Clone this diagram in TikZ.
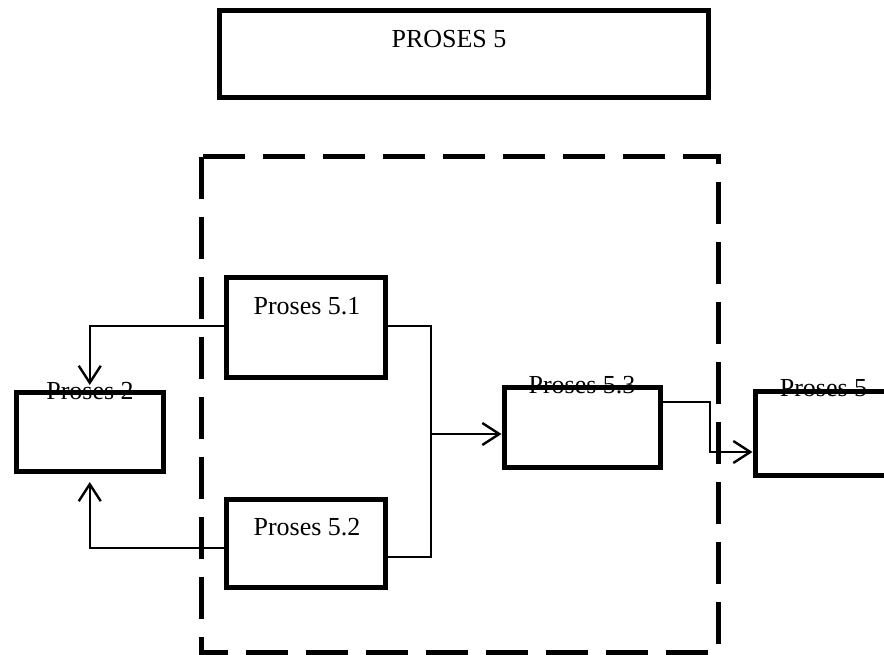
\documentclass[tikz,border=0pt]{standalone}
\usepackage{fontspec}
\setmainfont{Liberation Serif}
\usetikzlibrary{arrows.meta}

\begin{document}
\begin{tikzpicture}[x=1pt,y=-1pt,
        proc/.style={draw, line width=5pt, rectangle, inner sep=0pt},
        lbl/.style={anchor=base, inner sep=0pt, font=\fontsize{26}{30}\selectfont},
        link/.style={line width=1.7pt},
        tip/.style={link, -{Straight Barb[length=17pt,width=22pt,line width=2.4pt]}}]

        \useasboundingbox (0,0) rectangle (884,655);

        % Dashed frame
        \draw[line width=5pt, dash pattern=on 42pt off 18pt] (201,157) rectangle (718,652);

        % Boxes
        \node[proc, minimum width=489.5pt, minimum height=87pt] (top) at (463.75,54) {};
        \node[proc, minimum width=159pt, minimum height=100pt] (p51) at (306,327.5) {};
        \node[proc, minimum width=159pt, minimum height=88pt] (p52) at (306,543.5) {};
        \node[proc, minimum width=156pt, minimum height=80pt] (p53) at (582,427) {};
        \node[proc, minimum width=146.5pt, minimum height=78.5pt] (p2) at (89.75,431.75) {};
        \node[proc, minimum width=137pt, minimum height=84pt] (p5) at (823.5,433) {};

        % Labels
        \node[lbl] (ttop) at (449,48) {PROSES 5};
        \node[lbl] (t51) at (307,315) {Proses 5.1};
        \node[lbl] (t52) at (307,535) {Proses 5.2};
        \node[lbl] (t53) at (582,393) {Proses 5.3};
        \node[lbl] (t2) at (90,399) {Proses 2};
        \node[lbl] (t5) at (823.5,396) {Proses 5};

        % Links to Proses 2
        \draw[tip, shorten >=5pt] ([yshift=1.5pt]p51.west) -| (p2.north);
        \draw[tip, shorten >=8.5pt] ([yshift=-4.5pt]p52.west) -| (p2.south);

        % Merge into Proses 5.3
        \coordinate (jn) at (431,434);
        \draw[link] ([yshift=1.5pt]p51.east) -| (jn);
        \draw[link] ([yshift=-13.5pt]p52.east) -| (jn);
        \draw[tip] (jn) -- (jn -| p53.west);

        % Out to Proses 5
        \coordinate (bend) at (710,402);
        \draw[tip] ([yshift=25pt]p53.east) -- (bend) |- ([yshift=-19pt]p5.west);

\end{tikzpicture}
\end{document}
